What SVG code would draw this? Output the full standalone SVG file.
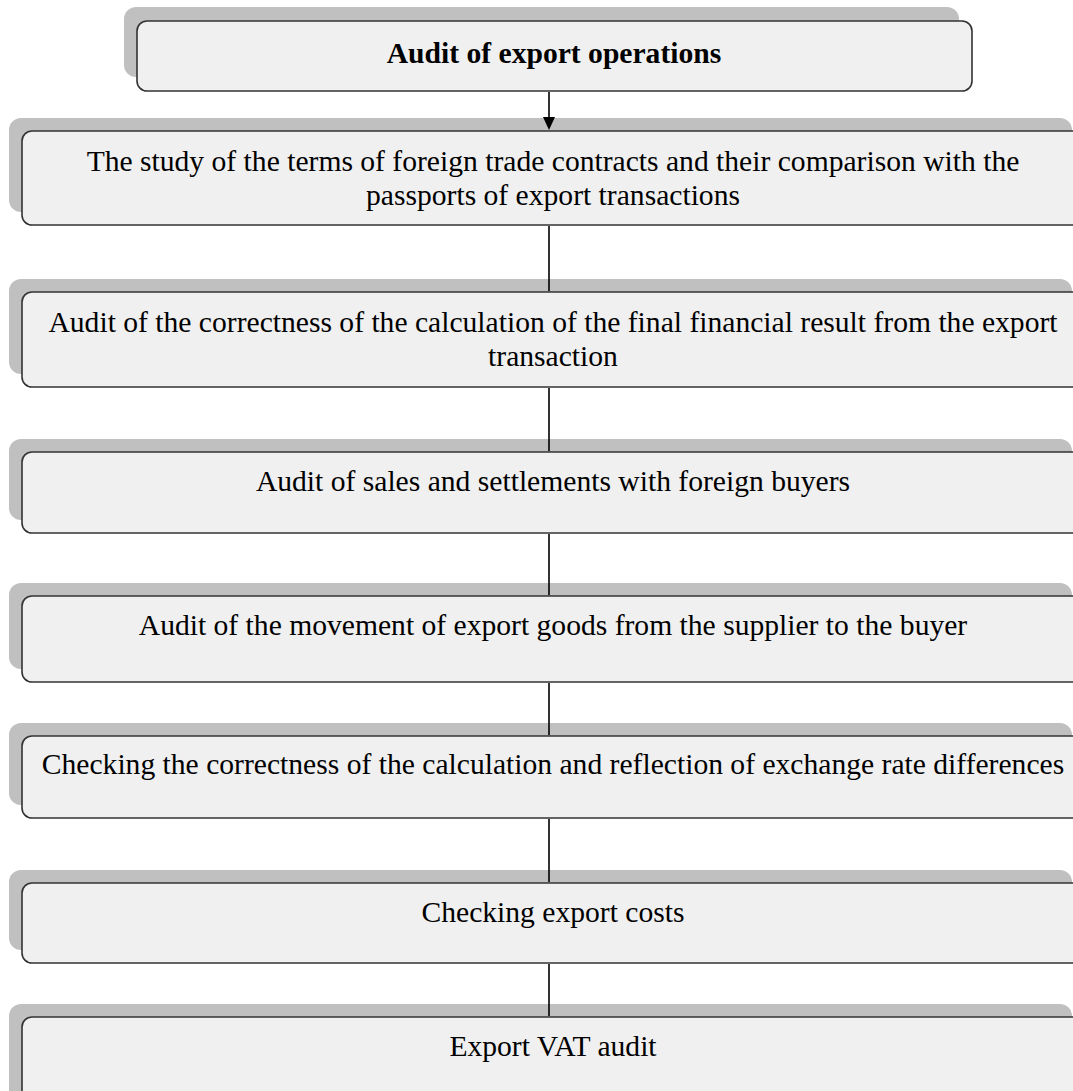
<svg xmlns="http://www.w3.org/2000/svg" width="1073" height="1091" viewBox="0 0 1073 1091">
<style>
.sh{fill:#c0c0c0}
.bx{fill:#f0f0f0;stroke:#333;stroke-width:1.6}
.t{font-family:"Liberation Serif","Times New Roman",serif;font-size:29.6px;fill:#000;text-anchor:middle}
.b{font-weight:bold}
.c{stroke:#000;stroke-width:1.6;fill:none}
</style>
<rect width="1073" height="1091" fill="#fff"/>
<g id="n1">
<rect class="sh" x="124" y="7" width="835" height="70" rx="12"/>
<rect class="bx" x="137" y="21" width="835" height="70" rx="10"/>
<text class="t b" x="554" y="63">Audit of export operations</text>
</g>
<g id="n2">
<rect class="sh" x="9" y="118" width="1063" height="94" rx="12"/>
<rect class="bx" x="22" y="131" width="1063" height="94" rx="10"/>
<text class="t" x="553" y="171">The study of the terms of foreign trade contracts and their comparison with the</text>
<text class="t" x="553" y="205">passports of export transactions</text>
</g>
<g id="n3">
<rect class="sh" x="9" y="279" width="1063" height="95" rx="12"/>
<rect class="bx" x="22" y="292" width="1063" height="95" rx="10"/>
<text class="t" x="553" y="332">Audit of the correctness of the calculation of the final financial result from the export</text>
<text class="t" x="553" y="366">transaction</text>
</g>
<g id="n4">
<rect class="sh" x="9" y="439" width="1063" height="81" rx="12"/>
<rect class="bx" x="22" y="452" width="1063" height="81" rx="10"/>
<text class="t" x="553" y="491">Audit of sales and settlements with foreign buyers</text>
</g>
<g id="n5">
<rect class="sh" x="9" y="583" width="1063" height="86" rx="12"/>
<rect class="bx" x="22" y="596" width="1063" height="86" rx="10"/>
<text class="t" x="553" y="635">Audit of the movement of export goods from the supplier to the buyer</text>
</g>
<g id="n6">
<rect class="sh" x="9" y="723" width="1063" height="82" rx="12"/>
<rect class="bx" x="22" y="736" width="1063" height="82" rx="10"/>
<text class="t" x="553" y="774">Checking the correctness of the calculation and reflection of exchange rate differences</text>
</g>
<g id="n7">
<rect class="sh" x="9" y="870" width="1063" height="80" rx="12"/>
<rect class="bx" x="22" y="883" width="1063" height="80" rx="10"/>
<text class="t" x="553" y="922">Checking export costs</text>
</g>
<g id="n8">
<rect class="sh" x="9" y="1004" width="1063" height="100" rx="12"/>
<rect class="bx" x="22" y="1017" width="1063" height="100" rx="10"/>
<text class="t" x="553" y="1056">Export VAT audit</text>
</g>
<g id="connectors">
<line class="c" x1="549" y1="92" x2="549" y2="119"/>
<polygon points="543,117 555,117 549,130" fill="#000"/>
<line class="c" x1="549" y1="226" x2="549" y2="291"/>
<line class="c" x1="549" y1="388" x2="549" y2="451"/>
<line class="c" x1="549" y1="534" x2="549" y2="595"/>
<line class="c" x1="549" y1="683" x2="549" y2="735"/>
<line class="c" x1="549" y1="819" x2="549" y2="882"/>
<line class="c" x1="549" y1="964" x2="549" y2="1016"/>
</g>
</svg>
